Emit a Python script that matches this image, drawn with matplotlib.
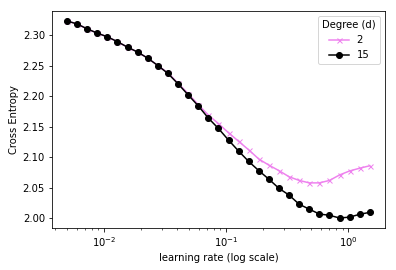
import matplotlib
matplotlib.use("Agg")
import matplotlib.pyplot as plt

learning_rate = [0.005, 0.006048, 0.007314, 0.008846, 0.010699, 0.012940, 0.015651,
                 0.018929, 0.022894, 0.027689, 0.033489, 0.040504, 0.048989, 0.059250,
                 0.071662, 0.086673, 0.104828, 0.126787, 0.153344, 0.185467, 0.224316,
                 0.271303, 0.328134, 0.396867, 0.479999, 0.580544, 0.702150, 0.849232,
                 1.02558, 1.24049, 1.5]

ce_deg15 = [2.323, 2.318, 2.310, 2.303, 2.297, 2.289, 2.280, 2.272, 2.262, 2.250,
            2.237, 2.220, 2.202, 2.184, 2.164, 2.147, 2.128, 2.110, 2.093, 2.078,
            2.064, 2.049, 2.038, 2.023, 2.015, 2.007, 2.005, 2.0005, 2.002, 2.0066,
            2.0098]

ce_deg2 = [2.323, 2.318, 2.310, 2.303, 2.297, 2.289, 2.280, 2.272, 2.262, 2.250,
           2.238, 2.221, 2.204, 2.186, 2.169, 2.155, 2.140, 2.126, 2.112, 2.097,
           2.087, 2.078, 2.068, 2.062, 2.058, 2.058, 2.062, 2.071, 2.0775, 2.082,
           2.086]

degrees = ["2", "15"]

fig = plt.figure(figsize=(5.5, 3.75), dpi=72)
ax = fig.add_axes([0.131, 0.156, 0.841, 0.803])
ax.plot(learning_rate, ce_deg2, color="violet", marker="x", markersize=5, label=degrees[0])
ax.plot(learning_rate, ce_deg15, color="black", marker="o", markersize=6, label=degrees[1])
ax.set_xscale("log")
ax.set_xlabel("learning rate (log scale)")
ax.set_ylabel("Cross Entropy")
ax.legend(title="Degree (d)", loc="upper right")
fig.savefig("out.png", dpi=72)
